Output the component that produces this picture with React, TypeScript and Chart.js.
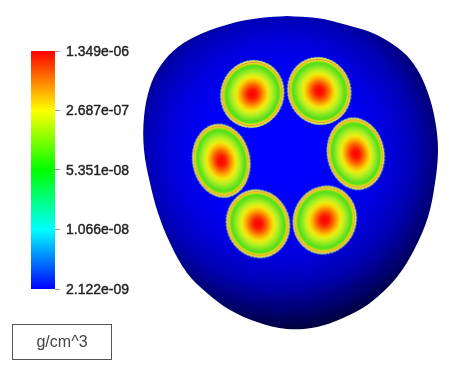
import React, { useEffect, useRef } from "react";
import { Chart, registerables } from "chart.js";

Chart.register(...registerables);

// Head outline
const outlineX = [287, 317, 347, 377, 403, 417, 428, 435, 438, 435, 428, 415, 397, 370, 343, 317, 287, 257, 230, 207, 187, 170, 158, 150, 144, 144, 150, 161, 178, 203, 233, 260, 287];
const outlineY = [16, 18, 25, 35, 52, 69, 93, 120, 150, 183, 217, 248, 277, 303, 318, 327, 329, 322, 310, 293, 273, 243, 213, 183, 150, 117, 87, 65, 47, 33, 23, 18, 16];

// Six density spots, centres
const spotX = [252.3, 319.3, 355.7, 221.3, 258, 324.7];
const spotY = [94, 91, 153.7, 160.7, 223.7, 220];

// Colour bar
const barMin = 2.122e-9;
const barMax = 1.349e-6;
const tickValues = [2.122e-9, 1.066e-8, 5.351e-8, 2.687e-7, 1.349e-6];
const tickLabels = ["2.122e-09", "1.066e-08", "5.351e-08", "2.687e-07", "1.349e-06"];
const unitLabel = "g/cm^3";

// Sprite styling only
const spotRadiusA = [31.5, 31.5, 28.5, 28.7, 31.5, 31.5];
const spotRadiusB = [34, 34, 36.2, 37, 34.5, 34.5];
const spotTilt = [20, -20, -10, -10, -20, 20];

function makeSpot(a: number, b: number, tiltDeg: number): HTMLCanvasElement {
  const size = Math.ceil(2 * Math.max(a, b) + 6);
  const c = document.createElement("canvas");
  c.width = size;
  c.height = size;
  const ctx = c.getContext("2d")!;
  ctx.translate(size / 2, size / 2);
  ctx.rotate((tiltDeg * Math.PI) / 180);
  ctx.scale(a, b);
  const g = ctx.createRadialGradient(0, 0, 0, 0, 0, 1);
  g.addColorStop(0, "#ff0000");
  g.addColorStop(0.14, "#fb1a00");
  g.addColorStop(0.28, "#fb6a00");
  g.addColorStop(0.4, "#fdb800");
  g.addColorStop(0.5, "#f0ec10");
  g.addColorStop(0.6, "#c4f020");
  g.addColorStop(0.7, "#90ea20");
  g.addColorStop(0.8, "#5ce020");
  g.addColorStop(0.85, "#58e010");
  g.addColorStop(0.885, "#b4e010");
  g.addColorStop(0.91, "#f0d820");
  g.addColorStop(0.935, "#e49830");
  g.addColorStop(0.96, "#ecd840");
  g.addColorStop(0.985, "#c8e860");
  g.addColorStop(1, "#a8e480");
  ctx.fillStyle = g;
  ctx.beginPath();
  ctx.arc(0, 0, 1, 0, Math.PI * 2);
  ctx.fill();
  ctx.setTransform(1, 0, 0, 1, 0, 0);
  ctx.translate(size / 2, size / 2);
  ctx.rotate((tiltDeg * Math.PI) / 180);
  ctx.beginPath();
  ctx.ellipse(0, 0, a, b, 0, 0, Math.PI * 2);
  ctx.lineWidth = 0.8;
  ctx.setLineDash([1.5, 2]);
  ctx.strokeStyle = "#a8e090";
  ctx.stroke();
  return c;
}

export default function App() {
  const mainRef = useRef<HTMLCanvasElement>(null);
  const barRef = useRef<HTMLCanvasElement>(null);

  useEffect(() => {
    const sprites = spotX.map((_, i) => makeSpot(spotRadiusA[i], spotRadiusB[i], spotTilt[i]));

    const main = new Chart(mainRef.current!, {
      type: "scatter",
      data: {
        datasets: [
          {
            type: "scatter",
            label: "spots",
            data: spotX.map((x, i) => ({ x, y: spotY[i] })),
            pointStyle: sprites as any,
            pointRadius: 10,
            order: 0,
          },
          {
            type: "line",
            label: "outline",
            data: outlineX.map((x, i) => ({ x, y: outlineY[i] })),
            showLine: true,
            fill: "shape",
            tension: 0.35,
            pointRadius: 0,
            borderWidth: 0,
            order: 1,
            backgroundColor: (ctx: any) => {
              const { chart } = ctx;
              const cx = (chart.width * 150) / 327;
              const cy = (chart.height * 150) / 371;
              const g = chart.ctx.createRadialGradient(cx, cy, 0, cx, cy, 182);
              g.addColorStop(0, "#0000ff");
              g.addColorStop(0.42, "#0000f8");
              g.addColorStop(0.6, "#0000dc");
              g.addColorStop(0.75, "#0000b0");
              g.addColorStop(0.87, "#000078");
              g.addColorStop(1, "#000038");
              return g;
            },
          } as any,
        ],
      },
      options: {
        responsive: false,
        animation: false,
        devicePixelRatio: 1,
        layout: { padding: 0, autoPadding: false },
        plugins: { legend: { display: false }, tooltip: { enabled: false } },
        scales: {
          x: { type: "linear", min: 130, max: 457, display: false },
          y: { type: "linear", min: 0, max: 371, reverse: true, display: false },
        },
      },
    });

    const bar = new Chart(barRef.current!, {
      type: "bar",
      data: {
        labels: ["density"],
        datasets: [
          {
            data: [[barMin, barMax]] as any,
            barPercentage: 1,
            categoryPercentage: 1,
            borderWidth: 0,
            backgroundColor: (ctx: any) => {
              const h = ctx.chart.height;
              const g = ctx.chart.ctx.createLinearGradient(0, h - 82, 0, 51);
              g.addColorStop(0, "#0000ff");
              g.addColorStop(0.25, "#00ffff");
              g.addColorStop(0.5, "#00ff00");
              g.addColorStop(0.75, "#ffff00");
              g.addColorStop(1, "#ff0000");
              return g;
            },
          },
        ],
      },
      options: {
        responsive: false,
        animation: false,
        devicePixelRatio: 1,
        layout: { padding: { top: 51, bottom: 82, left: 31, right: 0 } },
        plugins: { legend: { display: false }, tooltip: { enabled: false } },
        scales: {
          x: { display: false },
          y: {
            type: "logarithmic",
            position: "right",
            min: barMin,
            max: barMax,
            afterFit: (s: any) => {
              s.width = 87;
            },
            afterBuildTicks: (s: any) => {
              s.ticks = tickValues.map((value) => ({ value }));
            },
            grid: { drawOnChartArea: false, drawTicks: true, tickLength: 5, color: "#999999" },
            border: { display: false },
            ticks: {
              autoSkip: false,
              maxRotation: 0,
              padding: 6,
              labelOffset: 1,
              color: "#222222",
              textStrokeColor: "#222222",
              textStrokeWidth: 0.4,
              font: { family: "'Liberation Sans', Arial, sans-serif", size: 14 },
              callback: (_v: any, i: number) => tickLabels[i],
            },
          } as any,
        },
      },
    });

    return () => {
      main.destroy();
      bar.destroy();
    };
  }, []);

  return (
    <div style={{ position: "absolute", left: 0, top: 0, width: 457, height: 371, background: "#fff", overflow: "hidden" }}>
      <canvas ref={barRef} width={142} height={371} style={{ position: "absolute", left: 0, top: 0 }} />
      <canvas ref={mainRef} width={327} height={371} style={{ position: "absolute", left: 130, top: 0, filter: "blur(0.5px)" }} />
      <div
        style={{
          position: "absolute",
          left: 12,
          top: 324,
          width: 98,
          height: 34,
          border: "1.5px solid #555",
          color: "#444",
          font: "16px 'Liberation Sans', Arial, sans-serif",
          lineHeight: "34px",
          textAlign: "center",
        }}
      >
        {unitLabel}
      </div>
    </div>
  );
}
